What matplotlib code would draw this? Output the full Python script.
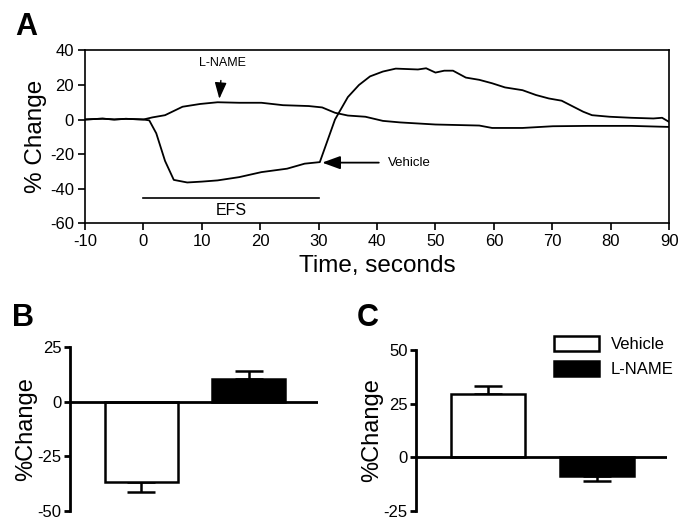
import matplotlib
matplotlib.use("Agg")
import matplotlib.pyplot as plt
import numpy as np
from matplotlib.patches import Patch

plt.rcParams['font.family'] = ['Liberation Sans', 'DejaVu Sans']
plt.rcParams['axes.unicode_minus'] = False

# ---- Panel A data ----
veh_t = [-10, -7, -5, -3, 0, 1, 2.2, 3.7, 5.2, 7.5, 10, 12.7, 16.4, 20.2, 24.6, 27.6, 30.2,
         32.8, 35, 36.9, 38.8, 41, 43.2, 47, 48.4, 50, 51.5, 53, 55.2, 57.5, 59.7, 61.9,
         64.9, 67.2, 69.4, 71.6, 73.1, 75.3, 76.8, 79.8, 83.5, 87.3, 88.8, 90]
veh_y = [0, 0.5, 0, 0.4, 0, -0.5, -8, -24, -35, -36.5, -36, -35.3, -33.4, -30.5, -28.5, -25.6, -24.7,
         0, 13, 20, 25, 27.8, 29.5, 29, 29.7, 27.2, 28.3, 28.3, 24.3, 23, 21, 18.6,
         17, 14.2, 12.2, 10.9, 8.3, 4.5, 2.5, 1.6, 1, 0.6, 1, -1.4]
lname_t = [-10, -7, -5, -3, 0, 1.5, 3.7, 6.7, 9.7, 12.7, 16.4, 20.2, 23.9, 28.3, 30.6, 32.8,
           35, 38, 41, 44, 50, 57.5, 59.7, 64.9, 70.1, 76.1, 83.5, 90]
lname_y = [0, 0.5, 0, 0.4, 0, 1.2, 2.5, 7.4, 9, 10, 9.7, 9.7, 8.3, 7.8, 7, 3.9,
           2.3, 1.6, -0.8, -1.7, -2.9, -3.5, -4.9, -4.9, -3.9, -3.7, -3.7, -4.3]
a_xticks = [-10, 0, 10, 20, 30, 40, 50, 60, 70, 80, 90]
a_yticks = [40, 20, 0, -20, -40, -60]

# ---- Panels B and C data ----
groups = ["Vehicle", "L-NAME"]
b_vals = [-37.0, 10.3]
b_errs = [4.5, 3.8]
c_vals = [29.5, -8.6]
c_errs = [4.0, 2.5]
b_yticks = [25, 0, -25, -50]
c_yticks = [50, 25, 0, -25]

fig = plt.figure(figsize=(6.8, 5.19), dpi=100)

# Panel A
axA = fig.add_axes([0.125, 0.5703, 0.859, 0.3324])
axA.plot(veh_t, veh_y, color='black', lw=1.3)
axA.plot(lname_t, lname_y, color='black', lw=1.3)
axA.set_xlim(-10, 90)
axA.set_ylim(-60, 40)
axA.set_xticks(a_xticks)
axA.set_yticks(a_yticks)
axA.tick_params(direction='out', length=5, width=1.2, labelsize=12, top=False, right=False, pad=3)
for s in axA.spines.values():
    s.set_linewidth(1.2)
axA.set_xlabel("Time, seconds", fontsize=17.5, labelpad=4)
axA.set_ylabel("% Change", fontsize=17.5, labelpad=2)
# EFS bar
axA.plot([0, 30], [-45.6, -45.6], color='black', lw=1.2)
axA.text(15, -53, "EFS", ha='center', va='center', fontsize=11.5)
# L-NAME arrow
axA.annotate("L-NAME", xy=(13, 12), xytext=(13.5, 32.5), ha='center', va='center', fontsize=9,
             arrowprops=dict(arrowstyle='-|>,head_length=1.1,head_width=0.4', color='black', lw=1.0,
                             shrinkA=6, shrinkB=0))
# Vehicle arrow
axA.annotate("", xy=(30.6, -25), xytext=(40.3, -25),
             arrowprops=dict(arrowstyle='-|>,head_length=1.1,head_width=0.4', color='black', lw=1.3,
                             shrinkA=0, shrinkB=0))
axA.text(41.8, -25.3, "Vehicle", ha='left', va='center', fontsize=9.5)
fig.text(0.022, 0.948, "A", fontsize=22, fontweight='bold', ha='left', va='center')


def bar_panel(ax, vals, errs, yticks, ylim):
    x = np.arange(len(vals))
    colors = ['white', 'black']
    for xi, v, e, c in zip(x, vals, errs, colors):
        if v < 0:
            yerr = [[e], [0]]
        else:
            yerr = [[0], [e]]
        ax.errorbar([xi], [v], yerr=yerr, fmt='none', ecolor='black', elinewidth=1.8,
                    capsize=10, capthick=1.8, zorder=1)
        ax.bar([xi], [v], width=0.68, color=c, edgecolor='black', linewidth=1.8, zorder=2)
    ax.axhline(0, color='black', lw=2.0, zorder=3)
    ax.set_xlim(-0.665, 1.645)
    ax.set_ylim(*ylim)
    ax.set_yticks(yticks)
    ax.set_xticks([])
    for s in ['top', 'right', 'bottom']:
        ax.spines[s].set_visible(False)
    ax.spines['left'].set_linewidth(2.0)
    ax.tick_params(axis='y', direction='out', length=4, width=2.0, labelsize=12, pad=2)
    ax.set_ylabel("%Change", fontsize=17, labelpad=0)
    ax.patch.set_alpha(0)


axB = fig.add_axes([0.1029, 0.0160, 0.3647, 0.3148])
bar_panel(axB, b_vals, b_errs, b_yticks, (-50, 25))
fig.text(0.017, 0.388, "B", fontsize=22, fontweight='bold', ha='left', va='center')

axC = fig.add_axes([0.6118, 0.0160, 0.3686, 0.309])
bar_panel(axC, c_vals, c_errs, c_yticks, (-25, 50))
fig.text(0.525, 0.388, "C", fontsize=22, fontweight='bold', ha='left', va='center')

handles = [Patch(facecolor='white', edgecolor='black', linewidth=1.8, label=groups[0]),
           Patch(facecolor='black', edgecolor='black', linewidth=1.8, label=groups[1])]
fig.legend(handles=handles, loc='upper left', bbox_to_anchor=(0.814, 0.352), frameon=False,
           fontsize=12, handlelength=2.7, handleheight=0.95, handletextpad=0.75,
           labelspacing=0.55, borderpad=0, borderaxespad=0)

fig.savefig("out.png", dpi=100)
